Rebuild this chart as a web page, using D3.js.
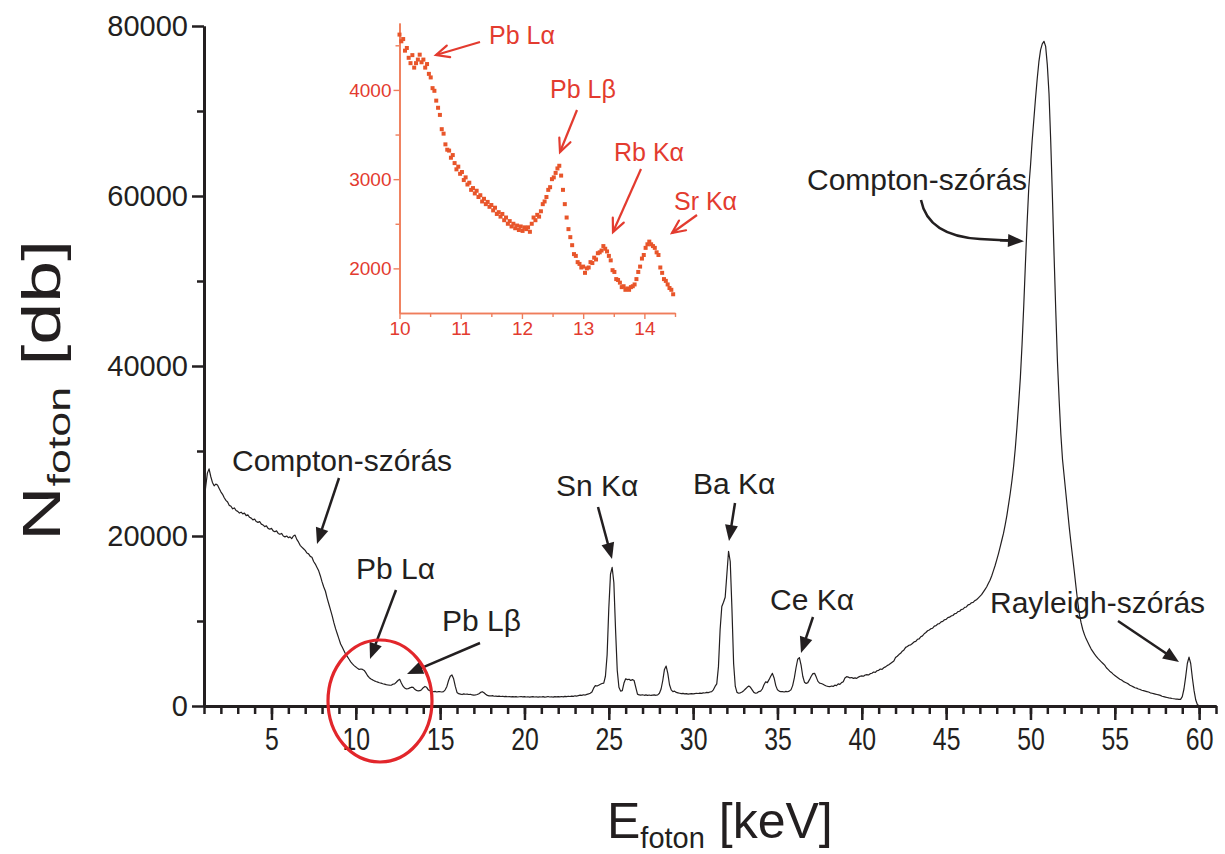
<!DOCTYPE html>
<html><head><meta charset="utf-8">
<script src="https://cdn.jsdelivr.net/npm/d3@7"></script>
<style>body{margin:0;background:#fff} text{font-family:"Liberation Sans",Arial,Helvetica,sans-serif}</style>
</head><body><svg id="c" width="1225" height="854"></svg>
<script>
// ---------- DATA ----------
// main spectrum: channel calibration (keV) and counts per channel
const mainStartKeV = 1.0, mainStepKeV = 0.1;
const mainCounts = [
 24000,25800,27400,27900,27000,26300,25900,26100,26000,25600,
 25200,24900,24500,24200,24000,23600,23500,23200,23300,23000,
 22900,22700,22800,22600,22700,22400,22500,22200,22100,21900,
 22000,21700,21600,21700,21400,21300,21100,21200,20900,20800,
 20900,20600,20500,20600,20300,20200,20300,20000,19900,20000,
 19800,19900,19700,20000,20100,19600,19300,18900,18700,18500,
 18300,18000,17900,17600,17500,17000,16700,16300,15900,15300,
 14600,14000,13500,12700,12000,11300,10600,9800,9100,8500,
 7900,7300,6900,6500,6100,5800,5500,5200,4950,4750,
 4600,4430,4300,4350,4300,4180,3900,3560,3330,3170,
 3070,2960,2880,2810,2740,2690,2620,2570,2510,2470,
 2450,2440,2570,2600,2790,3000,3140,2700,2330,2110,
 2010,2030,2130,2210,2200,1960,1830,1770,1800,1920,
 2160,2300,2200,1900,1800,1700,1680,1720,1650,1700,
 1680,1650,1700,1900,2300,3000,3500,3650,3200,2300,
 1600,1450,1400,1350,1420,1380,1400,1350,1380,1300,
 1280,1300,1350,1450,1600,1680,1550,1380,1250,1200,
 1180,1220,1150,1170,1130,1160,1120,1150,1100,1130,
 1090,1120,1080,1110,1070,1100,1060,1090,1120,1070,
 1100,1060,1090,1050,1080,1110,1060,1090,1050,1080,
 1060,1100,1050,1080,1120,1060,1090,1050,1100,1070,
 1110,1080,1120,1070,1130,1100,1150,1120,1170,1140,
 1200,1170,1230,1280,1250,1320,1290,1360,1420,1500,
 1650,2100,2400,2350,2450,2550,2650,2700,3500,6000,
 11500,15500,16300,14500,9000,4200,2200,1750,1800,2700,
 3200,3100,3150,3000,3100,3000,2200,1400,1300,1280,
 1320,1260,1300,1250,1290,1240,1280,1300,1260,1310,
 1500,2000,3000,4300,4700,3800,2500,1900,1700,1750,
 1600,1550,1500,1450,1480,1420,1460,1400,1430,1450,
 1420,1460,1500,1470,1520,1490,1550,1530,1600,1580,
 1650,1700,1900,2300,2600,4600,9000,11700,12200,12800,
 15500,18200,17000,11500,5000,2300,1600,1500,1550,1650,
 1800,2000,2200,2350,2200,1900,1600,1500,1550,1700,
 1750,2000,2500,2850,2750,3100,3500,3840,3300,2400,
 1900,1750,1680,1700,1650,1720,1680,1750,1900,2400,
 3300,4500,5500,5700,4800,3500,2800,2650,2750,3100,
 3500,3800,3840,3400,2900,2700,2650,2550,2450,2350,
 2300,2270,2350,2300,2450,2400,2600,2550,2750,2850,
 3300,3450,3400,3300,3350,3250,3300,3250,3400,3500,
 3550,3500,3650,3700,3650,3800,3850,4000,3950,4150,
 4200,4350,4300,4500,4600,4750,4850,5000,5150,5300,
 5700,5850,6050,6200,6450,6600,6900,7000,7150,7200,
 7350,7550,7600,7850,7900,8150,8250,8500,8650,8850,
 8950,9100,9150,9400,9450,9650,9700,9900,9950,10150,
 10200,10400,10450,10600,10650,10850,10900,11100,11150,11350,
 11400,11600,11650,11900,11950,12150,12200,12400,12500,12700,
 12900,13100,13400,13700,14000,14400,14800,15300,15900,16500,
 17200,17900,18700,19500,20300,21300,22400,23700,25000,26500,
 28200,30300,32800,35600,38600,42500,47000,52000,56800,61000,
 63500,66500,69000,71500,73800,75800,77200,77900,78200,77600,
 75400,72000,66500,60000,53000,46500,40500,36000,32000,29000,
 27000,25000,23000,21000,19200,17500,15800,14000,12300,10800,
 9800,9000,8400,7900,7500,7100,6700,6400,6100,5850,
 5600,5400,5200,5000,4800,4500,4300,4100,3950,3750,
 3600,3450,3300,3150,3050,2900,2800,2700,2600,2450,
 2350,2250,2150,2100,2000,1950,1850,1800,1750,1700,
 1650,1550,1500,1450,1400,1350,1300,1250,1150,1100,
 1050,1000,950,920,880,850,820,800,780,780,
 1100,2000,3400,5000,5750,5000,3300,1800,700,150,
 50
];
// inset (zoom 10–14.5 keV): channel calibration and counts
const insetStartKeV = 10.0, insetStepKeV = 0.03;
const insetCounts = [
 4620,4545,4570,4440,4470,4360,4300,4390,4250,4300,
 4340,4395,4310,4340,4250,4290,4180,4140,4020,3990,
 3880,3800,3720,3560,3510,3390,3330,3320,3240,3270,
 3180,3110,3140,3060,3080,2990,3020,2940,2960,2880,
 2900,2840,2870,2800,2820,2750,2780,2720,2745,2690,
 2710,2650,2680,2610,2630,2580,2610,2540,2570,2500,
 2530,2470,2500,2450,2480,2430,2470,2420,2460,2440,
 2460,2410,2500,2570,2540,2600,2580,2640,2720,2750,
 2800,2880,2910,3000,3020,3070,3120,3150,3040,2880,
 2720,2570,2440,2350,2260,2160,2140,2070,2050,2010,
 2020,1950,2000,2010,2070,2060,2120,2100,2170,2180,
 2200,2250,2220,2190,2140,2090,1980,1960,1880,1870,
 1840,1790,1800,1760,1775,1760,1790,1800,1820,1880,
 1960,2020,2110,2150,2230,2270,2300,2270,2250,2230,
 2180,2150,2010,1950,1880,1860,1820,1780,1760,1710
];
const xMajorTicks = [5,10,15,20,25,30,35,40,45,50,55,60];
const yMajorTicks = [0,20000,40000,60000,80000];
const yMinorTicks = [10000,30000,50000,70000];
const insetXTicks = [10,11,12,13,14];
const insetXMinor = [10.5,11.5,12.5,13.5,14.5];
const insetYTicks = [2000,3000,4000];
const insetYMinor = [2500,3500,4500];

// annotations: [text, textX, textY, arrowFromX, arrowFromY, arrowToX, arrowToY]
const mainNotes = [
 ["Compton-szórás",232,471,339,478,317,544],
 ["Pb Lα",356,579,396,590,370,659],
 ["Pb Lβ",442,631,480,643,407,674],
 ["Sn Kα",556,496,598,507,612,559],
 ["Ba Kα",693,494,735,503,729,541],
 ["Ce Kα",770,610,813,617,801,653],
 ["Rayleigh-szórás",990,613,1118,621,1179,662]
];
const insetNotes = [
 ["Pb Lα",489,44,480,42,436,55],
 ["Pb Lβ",550,98,577,110,560,152],
 ["Rb Kα",614,161,641,169,613,232],
 ["Sr Kα",674,210,697,215,672,233]
];

// ---------- DRAW ----------
const ink = "#231f20", red = "#e2262b", insetRed = "#e33b2f", insetAxis = "#ef7d5b", dotCol = "#e8552a";
const svg = d3.select("#c");
svg.append("rect").attr("width",1225).attr("height",854).attr("fill","#fff");

const x = d3.scaleLinear().domain([1,61]).range([204,1216]);
const y = d3.scaleLinear().domain([0,80000]).range([706,26]);

function styleAxis(g, dw, tw){
  g.select(".domain").attr("stroke",ink).attr("stroke-width",dw);
  g.selectAll(".tick line").attr("stroke",ink).attr("stroke-width",tw);
}
// x axis
const gxm = svg.append("g").attr("transform",`translate(0,${y(0)})`)
  .call(d3.axisBottom(x).tickValues(d3.range(1,62)).tickSize(8).tickSizeOuter(0).tickFormat(""));
styleAxis(gxm,3,2.5);
const gx = svg.append("g").attr("transform",`translate(0,${y(0)})`)
  .call(d3.axisBottom(x).tickValues(xMajorTicks).tickSize(14).tickSizeOuter(0).tickPadding(8));
styleAxis(gx,3,2.5);
gx.selectAll(".tick text").attr("fill",ink).attr("font-size",31).attr("transform","scale(0.8,1)");
// y axis
const gym = svg.append("g").attr("transform",`translate(${x(1)},0)`)
  .call(d3.axisLeft(y).tickValues(yMinorTicks).tickSize(7).tickSizeOuter(0).tickFormat(""));
styleAxis(gym,3,2.5);
const gy = svg.append("g").attr("transform",`translate(${x(1)},0)`)
  .call(d3.axisLeft(y).tickValues(yMajorTicks).tickSize(12).tickSizeOuter(0).tickPadding(4).tickFormat(d3.format("d")));
styleAxis(gy,3,2.5);
gy.selectAll(".tick text").attr("fill",ink).attr("font-size",29);

// spectrum line
const line = d3.line().x((d,i)=>x(mainStartKeV+i*mainStepKeV)).y(d=>y(d));
svg.append("path").datum(mainCounts).attr("d",line).attr("fill","none")
  .attr("stroke",ink).attr("stroke-width",1.2).attr("stroke-linejoin","round");

// axis titles
const yt = svg.append("text").attr("transform","translate(60,541) rotate(-90) scale(1.4,1)").attr("fill",ink).attr("font-size",54);
yt.append("tspan").text("N");
yt.append("tspan").attr("font-size",32).attr("dy",10).text("foton");
yt.append("tspan").attr("dy",-10).text(" [db]");
const xt = svg.append("text").attr("x",607).attr("y",838).attr("fill",ink).attr("font-size",50);
xt.append("tspan").text("E");
xt.append("tspan").attr("font-size",29).attr("dy",10).text("foton");
xt.append("tspan").attr("dy",-10).text(" [keV]");

// arrows
function arrow(g,x1,y1,x2,y2,col,filled,len,half,sw){
  const a = Math.atan2(y2-y1,x2-x1), c=Math.cos(a), s=Math.sin(a);
  const bx = x2-len*c, by = y2-len*s;
  const p1=[bx-half*s, by+half*c], p2=[bx+half*s, by-half*c];
  if(filled){
    g.append("line").attr("x1",x1).attr("y1",y1).attr("x2",bx+2*c).attr("y2",by+2*s).attr("stroke",col).attr("stroke-width",sw);
    g.append("path").attr("d",`M${x2},${y2}L${p1}L${p2}Z`).attr("fill",col);
  } else {
    g.append("line").attr("x1",x1).attr("y1",y1).attr("x2",x2).attr("y2",y2).attr("stroke",col).attr("stroke-width",sw);
    g.append("path").attr("d",`M${p1}L${x2},${y2}L${p2}`).attr("fill","none").attr("stroke",col).attr("stroke-width",sw).attr("stroke-linecap","round");
  }
}
const notes = svg.append("g");
mainNotes.forEach(n=>{
  notes.append("text").attr("x",n[1]).attr("y",n[2]).attr("fill",ink).attr("font-size",30).text(n[0]);
  arrow(notes,n[3],n[4],n[5],n[6],ink,true,16,6.5,2.5);
});
// right Compton label with curved arrow
notes.append("text").attr("x",807).attr("y",190).attr("fill",ink).attr("font-size",30).text("Compton-szórás");
notes.append("path").attr("d","M921,200 Q928,236 980,239 L1008,240.5").attr("fill","none").attr("stroke",ink).attr("stroke-width",2.5);
arrow(notes,1000,240.2,1024,241.2,ink,true,16,6.5,2.5);

// red circle
svg.append("ellipse").attr("cx",380).attr("cy",701).attr("rx",52).attr("ry",61)
  .attr("fill","none").attr("stroke",red).attr("stroke-width",3.2);

// ---------- INSET ----------
const ix = d3.scaleLinear().domain([10,14.5]).range([399.5,675]);
const iy = d3.scaleLinear().domain([1500,4750]).range([313,23]);
const ig = svg.append("g");
function styleInset(g){
  g.select(".domain").attr("stroke",insetAxis).attr("stroke-width",1.6);
  g.selectAll(".tick line").attr("stroke",insetAxis).attr("stroke-width",1.4);
  g.selectAll(".tick text").attr("fill",insetRed).attr("font-size",19);
}
const igxm = ig.append("g").attr("transform",`translate(0,${iy(1500)})`)
  .call(d3.axisBottom(ix).tickValues(insetXMinor).tickSize(4).tickSizeOuter(0).tickFormat(""));
styleInset(igxm);
const igx = ig.append("g").attr("transform",`translate(0,${iy(1500)})`)
  .call(d3.axisBottom(ix).tickValues(insetXTicks).tickSize(6).tickSizeOuter(0).tickPadding(3).tickFormat(d3.format("d")));
styleInset(igx);
const igym = ig.append("g").attr("transform",`translate(${ix(10)},0)`)
  .call(d3.axisLeft(iy).tickValues(insetYMinor).tickSize(4).tickSizeOuter(0).tickFormat(""));
styleInset(igym);
const igy = ig.append("g").attr("transform",`translate(${ix(10)},0)`)
  .call(d3.axisLeft(iy).tickValues(insetYTicks).tickSize(6).tickSizeOuter(0).tickPadding(2).tickFormat(d3.format("d")));
styleInset(igy);
ig.selectAll(".dot").data(insetCounts).enter().append("rect")
  .attr("x",(d,i)=>ix(insetStartKeV+i*insetStepKeV)-2).attr("y",d=>iy(d)-2)
  .attr("width",4).attr("height",4).attr("fill",dotCol);
insetNotes.forEach(n=>{
  ig.append("text").attr("x",n[1]).attr("y",n[2]).attr("fill",insetRed).attr("font-size",25).text(n[0]);
  arrow(ig,n[3],n[4],n[5],n[6],insetRed,false,13,6,2.2);
});
</script></body></html>
